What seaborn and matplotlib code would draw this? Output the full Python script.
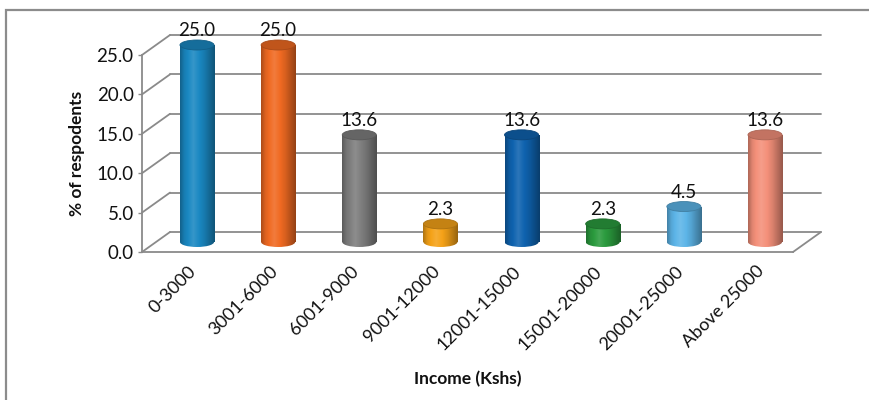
import numpy as np
import pandas as pd
import matplotlib
matplotlib.use("Agg")
import matplotlib.pyplot as plt
import matplotlib.colors as mcolors
from matplotlib.patches import Ellipse, Rectangle
from matplotlib.transforms import offset_copy, ScaledTranslation
import seaborn as sns

# ---- data ----
categories = ["0-3000", "3001-6000", "6001-9000", "9001-12000",
              "12001-15000", "15001-20000", "20001-25000", "Above 25000"]
values = [25.0, 25.0, 13.6, 2.3, 13.6, 2.3, 4.5, 13.6]
bar_colors = ["#1A88C2", "#F06A22", "#7E7E7E", "#F5A218",
              "#0F63AF", "#2B9B3E", "#5DB5E8", "#F4907A"]
y_ticks = [0, 5, 10, 15, 20, 25]

sns.set_theme(style="white")
plt.rcParams["font.family"] = ["Lato", "DejaVu Sans"]

W, H, DPI = 870, 400, 100
fig = plt.figure(figsize=(W / DPI, H / DPI), dpi=DPI)

# front plane of the 3D box in pixels
left_px, right_px, bot_px, top_px = 142, 793, 252, 55
ymax_axis = 25.0
px_per_unit_y = (bot_px - top_px) / ymax_axis
y_extra = 4.0  # headroom so the cylinder tops are not clipped
ax_top_px = top_px - y_extra * px_per_unit_y
ax = fig.add_axes([left_px / W, 1 - bot_px / H,
                   (right_px - left_px) / W, (bot_px - ax_top_px) / H])

df = pd.DataFrame({"cat": categories, "val": values})
sns.barplot(data=df, x="cat", y="val", hue="cat", palette=bar_colors,
            legend=False, width=0.42, ax=ax, saturation=1)

first_c, last_c = 197, 765
step = (last_c - first_c) / (len(categories) - 1)
xl0 = -(first_c - left_px) / step
xl1 = (len(categories) - 1) + (right_px - last_c) / step

# depth offsets (back wall)
ddx_px, ddy_px = 28, 20
ddx = ddx_px / step
ddy = ddy_px / px_per_unit_y
grid_col = "#8A8A8A"

for t in y_ticks:
    ax.plot([xl0 + ddx, xl1 + ddx], [t + ddy, t + ddy], color=grid_col,
            lw=1.3, clip_on=False, zorder=0.5)
    ax.plot([xl0, xl0 + ddx], [t, t + ddy], color=grid_col, lw=1.3,
            clip_on=False, zorder=0.5)
ax.plot([xl1, xl1 + ddx], [0, ddy], color=grid_col, lw=1.3,
        clip_on=False, zorder=0.5)

shift_px = 10
trans = offset_copy(ax.transData, fig=fig, x=0, y=shift_px, units="dots")
cap_h = 10 / px_per_unit_y


def shade(c, f):
    c = np.array(mcolors.to_rgb(c))
    if f < 1:
        return tuple(c * f)
    return tuple(c + (1 - c) * (f - 1))


def gradient_img(c):
    xs = np.linspace(0, 1, 64)
    prof = np.interp(xs, [0, 0.12, 0.38, 0.7, 1.0], [0.72, 0.92, 1.12, 0.9, 0.62])
    return np.array([[shade(c, f) for f in prof]])


for patch, col, v in zip(ax.patches, bar_colors, values):
    x = patch.get_x()
    w = patch.get_width()
    cx = x + w / 2
    patch.set_transform(trans)
    patch.set_facecolor("none")
    patch.set_edgecolor("none")
    img = gradient_img(col)
    im = ax.imshow(img, extent=[x, x + w, 0, v], aspect="auto",
                   transform=trans, zorder=2, interpolation="bilinear")
    im.set_clip_path(patch)
    bot = Ellipse((cx, 0), w, cap_h, transform=trans, facecolor="none",
                  edgecolor="none", zorder=1.9)
    ax.add_patch(bot)
    im2 = ax.imshow(img, extent=[x, x + w, -cap_h, cap_h], aspect="auto",
                    transform=trans, zorder=1.9, interpolation="bilinear")
    im2.set_clip_path(bot)
    top = Ellipse((cx, v), w, cap_h, transform=trans,
                  facecolor=shade(col, 0.8), edgecolor=shade(col, 0.7),
                  lw=0.6, zorder=3, clip_on=False)
    ax.add_patch(top)
    ax.annotate(f"{v:.1f}", xy=(cx, v), xycoords=trans, xytext=(0, 4),
                textcoords="offset points", ha="center", va="bottom",
                fontsize=13.5, color="#111111", zorder=4, annotation_clip=False)

ax.set_xlim(xl0, xl1)
ax.set_ylim(0, ymax_axis + y_extra)

for s in ["top", "right"]:
    ax.spines[s].set_visible(False)
for s in ["left", "bottom"]:
    ax.spines[s].set_color(grid_col)
    ax.spines[s].set_linewidth(1.3)
ax.spines["left"].set_bounds(0, ymax_axis)
ax.set_yticks(y_ticks)
ax.set_yticklabels([f"{t:.1f}" for t in y_ticks], fontsize=13.5, color="#111111")
ax.tick_params(axis="y", direction="out", length=3, width=1, color=grid_col, pad=3,
               left=True)
ax.tick_params(axis="x", length=0, pad=8)
ax.set_xticks(range(len(categories)))
ax.set_xticklabels(categories, rotation=45, ha="right", rotation_mode="anchor",
                   fontsize=13, color="#111111")
label_shift = ScaledTranslation(-9 / DPI, 0, fig.dpi_scale_trans)
for lbl in ax.get_xticklabels():
    lbl.set_transform(lbl.get_transform() + label_shift)
ax.set_xlabel("Income (Kshs)", fontsize=12.5, fontweight="bold", labelpad=13,
              color="#111111")
ax.set_ylabel("% of respodents", fontsize=12.5, fontweight="bold", labelpad=8,
              color="#111111")
ax.yaxis.set_label_coords(-0.088, (ymax_axis / 2) / (ymax_axis + y_extra))
ax.grid(False)
ax.patch.set_alpha(0)

frame = Rectangle((6 / W, -0.1), 2, 1 - 10 / H + 0.1, transform=fig.transFigure,
                  facecolor="none", edgecolor="#8C8C8C", lw=1.6)
fig.patches.append(frame)

fig.savefig("out.png", dpi=DPI)
